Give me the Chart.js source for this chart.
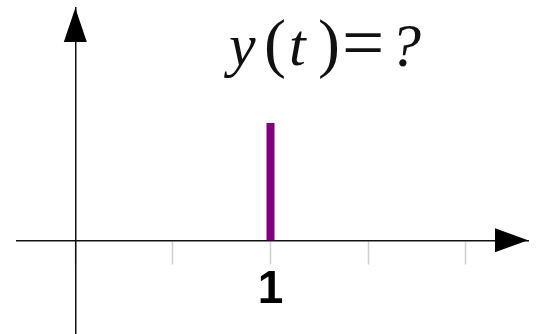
<!DOCTYPE html>
<html>
<head>
<meta charset="utf-8">
<script src="https://cdn.jsdelivr.net/npm/chart.js@4"></script>
<style>
  body { margin: 0; background: #fff; }
  #wrap { position: relative; width: 542px; height: 334px; }
  #formula span { position: absolute; font-family: "Liberation Serif", "Times New Roman", serif; line-height: 1; color: #111; }
  #formula .it { font-style: italic; }
</style>
</head>
<body>
<div id="wrap">
  <canvas id="signal" width="542" height="334"></canvas>
  <div id="formula">
    <span class="it" style="left:229px; top:15px; font-size:60px;">y</span>
    <span style="left:264px; top:10px; font-size:66px;">(</span>
    <span class="it" style="left:289px; top:15px; font-size:60px;">t</span>
    <span style="left:318px; top:10px; font-size:66px;">)</span>
    <span style="left:342px; top:4px; font-size:75px;">=</span>
    <span class="it" style="left:390px; top:14px; font-size:62px;">?</span>
  </div>
</div>
<script>
// impulse at t = 1
const tValues = [1, 1];
const yValues = [0, 1];

// axes
const xTicks = [0, 0.5, 1, 1.5, 2];
const labeledTicks = [1];
const xRange = [-0.2987, 2.319];
const yRange = [-0.799, 1.98];

const points = tValues.map((t, i) => ({ x: t, y: yValues[i] }));

// arrow heads on the axis ends
const arrowPlugin = {
  id: "axisArrows",
  afterDraw(chart) {
    const { ctx, scales: { x, y } } = chart;
    const x0 = x.getPixelForValue(0);
    const y0 = y.getPixelForValue(0);
    ctx.save();
    ctx.fillStyle = "#000";
    // x arrow
    ctx.beginPath();
    ctx.moveTo(x.right, y0);
    ctx.lineTo(x.right - 33, y0 - 12);
    ctx.lineTo(x.right - 33, y0 + 12);
    ctx.closePath();
    ctx.fill();
    // y arrow
    ctx.beginPath();
    ctx.moveTo(x0, y.top);
    ctx.lineTo(x0 - 11.5, y.top + 34);
    ctx.lineTo(x0 + 11.5, y.top + 34);
    ctx.closePath();
    ctx.fill();
    ctx.restore();
  }
};

new Chart(document.getElementById("signal").getContext("2d"), {
  type: "scatter",
  data: {
    datasets: [{
      data: points,
      showLine: true,
      borderColor: "#800080",
      borderWidth: 8,
      borderCapStyle: "butt",
      pointRadius: 0
    }]
  },
  options: {
    responsive: false,
    animation: false,
    layout: { padding: { left: 17, right: 14, top: 8, bottom: 0 } },
    plugins: {
      legend: { display: false },
      tooltip: { enabled: false }
    },
    scales: {
      x: {
        type: "linear",
        min: xRange[0],
        max: xRange[1],
        position: { y: 0 },
        afterFit: scale => { scale.height = 0; },
        afterBuildTicks: scale => { scale.ticks = xTicks.map(v => ({ value: v })); },
        border: { display: true, color: "#111", width: 1.5 },
        grid: {
          drawOnChartArea: false,
          drawTicks: true,
          tickLength: 23,
          tickColor: "#cfcfcf",
          tickWidth: 1.5
        },
        ticks: {
          padding: 4,
          maxRotation: 0,
          autoSkip: false,
          color: "#000",
          font: { family: "'Liberation Sans', Arial, sans-serif", size: 46, weight: "bold", lineHeight: 1 },
          callback: v => labeledTicks.includes(v) ? String(v) : ""
        }
      },
      y: {
        type: "linear",
        min: yRange[0],
        max: yRange[1],
        position: { x: 0 },
        afterFit: scale => { scale.width = 0; },
        border: { display: true, color: "#111", width: 1.5 },
        grid: { drawOnChartArea: false, drawTicks: false },
        ticks: { display: false }
      }
    }
  },
  plugins: [arrowPlugin]
});
</script>
</body>
</html>
